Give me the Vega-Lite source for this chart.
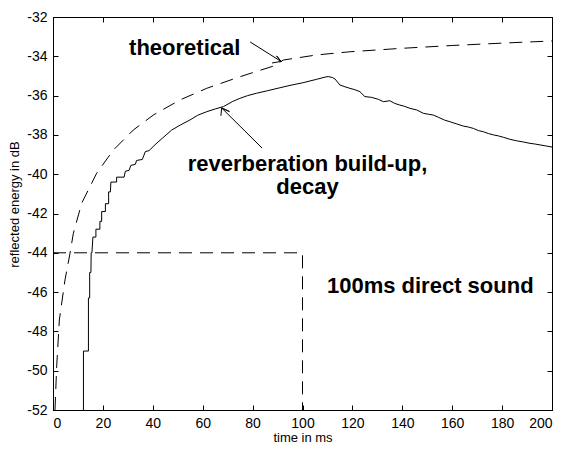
{
  "$schema": "https://vega.github.io/schema/vega-lite/v6.json",
  "width": 499,
  "height": 393,
  "autosize": "none",
  "padding": {"left": 53, "top": 17, "right": 11, "bottom": 39},
  "background": "white",
  "config": {
    "view": {"stroke": "black", "strokeWidth": 1},
    "axis": {
      "grid": false,
      "labelFont": "Liberation Sans",
      "labelFontSize": 14,
      "labelColor": "black",
      "labelOverlap": false,
      "titleFont": "Liberation Sans",
      "titleFontSize": 13,
      "titleFontWeight": "normal",
      "titleColor": "black",
      "domainColor": "black",
      "tickColor": "black",
      "tickSize": -5,
      "labelPadding": 11
    },
    "text": {"font": "Liberation Sans", "fontSize": 22, "fontWeight": "bold", "color": "black"}
  },
  "datasets": {
    "theory": [
      {"t": 0.8, "v": -52.0}, {"t": 1.47, "v": -49.8}, {"t": 2.54, "v": -47.42}, {"t": 4.81, "v": -45.38},
      {"t": 6.81, "v": -44.03}, {"t": 8.15, "v": -43.01}, {"t": 11.49, "v": -41.48}, {"t": 17.5, "v": -39.95},
      {"t": 24.2, "v": -38.77}, {"t": 32.2, "v": -37.75}, {"t": 40.2, "v": -36.99}, {"t": 50.9, "v": -36.22},
      {"t": 61.6, "v": -35.63}, {"t": 74.9, "v": -35.04}, {"t": 88.3, "v": -34.5}, {"t": 92.3, "v": -34.19},
      {"t": 105.7, "v": -33.93}, {"t": 119, "v": -33.77}, {"t": 139, "v": -33.6}, {"t": 160, "v": -33.45},
      {"t": 180, "v": -33.33}, {"t": 200, "v": -33.22}
    ],
    "reverb": [
      {"i": 0, "t": 12.2, "v": -52.0}, {"i": 1, "t": 12.2, "v": -49.0}, {"i": 2, "t": 14.2, "v": -49.0},
      {"i": 3, "t": 14.2, "v": -46.3}, {"i": 4, "t": 14.7, "v": -46.3}, {"i": 5, "t": 14.7, "v": -45.0},
      {"i": 6, "t": 15.2, "v": -45.0}, {"i": 7, "t": 15.3, "v": -44.0}, {"i": 8, "t": 15.6, "v": -44.0},
      {"i": 9, "t": 16.0, "v": -43.2}, {"i": 10, "t": 17.2, "v": -43.2}, {"i": 11, "t": 17.2, "v": -42.8},
      {"i": 12, "t": 18.8, "v": -42.8}, {"i": 13, "t": 18.8, "v": -42.4}, {"i": 14, "t": 19.5, "v": -42.4},
      {"i": 15, "t": 19.5, "v": -41.9}, {"i": 16, "t": 21.0, "v": -41.9}, {"i": 17, "t": 21.0, "v": -41.5},
      {"i": 18, "t": 22.3, "v": -41.5}, {"i": 19, "t": 22.3, "v": -40.9}, {"i": 20, "t": 23.0, "v": -40.9},
      {"i": 21, "t": 23.2, "v": -40.4}, {"i": 22, "t": 25.5, "v": -40.4}, {"i": 23, "t": 25.5, "v": -40.15},
      {"i": 24, "t": 28.5, "v": -40.15}, {"i": 25, "t": 29.0, "v": -39.85}, {"i": 26, "t": 30.5, "v": -39.8},
      {"i": 27, "t": 31.2, "v": -39.55}, {"i": 28, "t": 33.0, "v": -39.5}, {"i": 29, "t": 33.5, "v": -39.3},
      {"i": 30, "t": 35.8, "v": -39.25}, {"i": 31, "t": 37.0, "v": -38.85}, {"i": 32, "t": 38.5, "v": -38.8},
      {"i": 33, "t": 40.9, "v": -38.5}, {"i": 34, "t": 44.0, "v": -38.15}, {"i": 35, "t": 47.6, "v": -37.75},
      {"i": 36, "t": 51.0, "v": -37.5}, {"i": 37, "t": 54.9, "v": -37.24}, {"i": 38, "t": 58.0, "v": -37.0},
      {"i": 39, "t": 61.6, "v": -36.82}, {"i": 40, "t": 65.0, "v": -36.68}, {"i": 41, "t": 68.3, "v": -36.56},
      {"i": 42, "t": 72.0, "v": -36.3}, {"i": 43, "t": 74.9, "v": -36.14}, {"i": 44, "t": 78.0, "v": -36.0},
      {"i": 45, "t": 81.6, "v": -35.88}, {"i": 46, "t": 86.0, "v": -35.75}, {"i": 47, "t": 91.0, "v": -35.6},
      {"i": 48, "t": 95.0, "v": -35.48}, {"i": 49, "t": 100.0, "v": -35.35}, {"i": 50, "t": 105.7, "v": -35.17},
      {"i": 51, "t": 109.0, "v": -35.06}, {"i": 52, "t": 110.3, "v": -35.03}, {"i": 53, "t": 112.0, "v": -35.08},
      {"i": 54, "t": 113.0, "v": -35.15}, {"i": 55, "t": 115.0, "v": -35.46}, {"i": 56, "t": 117.0, "v": -35.55},
      {"i": 57, "t": 119.0, "v": -35.63}, {"i": 58, "t": 121.0, "v": -35.7}, {"i": 59, "t": 123.0, "v": -35.8},
      {"i": 60, "t": 125.0, "v": -36.05}, {"i": 61, "t": 127.7, "v": -36.09}, {"i": 62, "t": 130.4, "v": -36.19},
      {"i": 63, "t": 132.4, "v": -36.31}, {"i": 64, "t": 135.0, "v": -36.26}, {"i": 65, "t": 137.0, "v": -36.4},
      {"i": 66, "t": 139.0, "v": -36.48}, {"i": 67, "t": 141.0, "v": -36.55}, {"i": 68, "t": 143.1, "v": -36.65},
      {"i": 69, "t": 145.8, "v": -36.73}, {"i": 70, "t": 148.4, "v": -36.9}, {"i": 71, "t": 150.5, "v": -36.95},
      {"i": 72, "t": 152.4, "v": -36.99}, {"i": 73, "t": 154.4, "v": -37.1}, {"i": 74, "t": 157.0, "v": -37.25},
      {"i": 75, "t": 159.1, "v": -37.33}, {"i": 76, "t": 162.0, "v": -37.45}, {"i": 77, "t": 164.4, "v": -37.55},
      {"i": 78, "t": 166.5, "v": -37.6}, {"i": 79, "t": 168.5, "v": -37.67}, {"i": 80, "t": 170.5, "v": -37.78},
      {"i": 81, "t": 172.5, "v": -37.84}, {"i": 82, "t": 174.5, "v": -37.93}, {"i": 83, "t": 176.5, "v": -38.0},
      {"i": 84, "t": 178.5, "v": -38.05}, {"i": 85, "t": 180.5, "v": -38.12}, {"i": 86, "t": 183.0, "v": -38.22},
      {"i": 87, "t": 185.8, "v": -38.3}, {"i": 88, "t": 188.5, "v": -38.36}, {"i": 89, "t": 191.2, "v": -38.43},
      {"i": 90, "t": 193.0, "v": -38.46}, {"i": 91, "t": 195.2, "v": -38.51}, {"i": 92, "t": 197.5, "v": -38.56},
      {"i": 93, "t": 200.0, "v": -38.62}
    ],
    "direct": [
      {"i": 0, "t": 0, "v": -44}, {"i": 1, "t": 100, "v": -44}, {"i": 2, "t": 100, "v": -52}
    ],
    "arrows": [
      {"arrow": "a", "i": 0, "t": 87.8, "v": -34.34}, {"arrow": "a", "i": 1, "t": 91.4, "v": -34.26},
      {"arrow": "a", "i": 2, "t": 89.6, "v": -33.98}, {"arrow": "a", "i": 3, "t": 91.4, "v": -34.26},
      {"arrow": "a", "i": 4, "t": 79.0, "v": -33.27},
      {"arrow": "b", "i": 0, "t": 67.3, "v": -37.03}, {"arrow": "b", "i": 1, "t": 67.6, "v": -36.63},
      {"arrow": "b", "i": 2, "t": 70.7, "v": -36.81}, {"arrow": "b", "i": 3, "t": 67.6, "v": -36.63},
      {"arrow": "b", "i": 4, "t": 83.8, "v": -38.67}
    ],
    "leftLabels": [
      {"t": 30.5, "v": -33.93, "label": "theoretical"},
      {"t": 109.8, "v": -46.05, "label": "100ms direct sound"}
    ],
    "centerLabels": [
      {"t": 102, "v": -39.84, "label": "reverberation build-up,"},
      {"t": 102, "v": -41.01, "label": "decay"}
    ]
  },
  "layer": [
    {
      "layer": [
        {
          "data": {"name": "theory"},
          "mark": {"type": "line", "color": "black", "strokeWidth": 1, "strokeDash": [13, 8], "clip": true},
          "encoding": {
            "x": {"field": "t", "type": "quantitative", "scale": {"domain": [0, 200], "nice": false},
                  "axis": {"title": "time in ms", "tickCount": 30, "labelOverlap": false, "labelExpr": "'' + datum.value", "values": [0,20,40,60,80,100,120,140,160,180,200], "titleY": 27, "titleBaseline": "middle"}},
            "y": {"field": "v", "type": "quantitative", "scale": {"domain": [-52, -32], "nice": false, "zero": false},
                  "axis": {"title": "reflected energy in dB", "tickCount": 30, "labelOverlap": false, "labelBound": false, "labelExpr": "'' + datum.value", "values": [-52,-50,-48,-46,-44,-42,-40,-38,-36,-34,-32], "titleX": -39, "titleY": 187, "titleBaseline": "middle"}}
          }
        },
        {
          "data": {"name": "reverb"},
          "mark": {"type": "line", "color": "black", "strokeWidth": 1},
          "encoding": {
            "x": {"field": "t", "type": "quantitative"},
            "y": {"field": "v", "type": "quantitative"},
            "order": {"field": "i", "type": "quantitative"}
          }
        },
        {
          "data": {"name": "direct"},
          "mark": {"type": "line", "color": "black", "strokeWidth": 1, "strokeDash": [13, 8]},
          "encoding": {
            "x": {"field": "t", "type": "quantitative"},
            "y": {"field": "v", "type": "quantitative"},
            "order": {"field": "i", "type": "quantitative"}
          }
        },
        {
          "data": {"name": "arrows"},
          "mark": {"type": "line", "color": "black", "strokeWidth": 1},
          "encoding": {
            "x": {"field": "t", "type": "quantitative"},
            "y": {"field": "v", "type": "quantitative"},
            "detail": {"field": "arrow"},
            "order": {"field": "i", "type": "quantitative"}
          }
        },
        {
          "data": {"name": "leftLabels"},
          "mark": {"type": "text", "align": "left", "baseline": "alphabetic"},
          "encoding": {
            "x": {"field": "t", "type": "quantitative"},
            "y": {"field": "v", "type": "quantitative"},
            "text": {"field": "label"}
          }
        },
        {
          "data": {"name": "centerLabels"},
          "mark": {"type": "text", "align": "center", "baseline": "alphabetic"},
          "encoding": {
            "x": {"field": "t", "type": "quantitative"},
            "y": {"field": "v", "type": "quantitative"},
            "text": {"field": "label"}
          }
        }
      ]
    },
    {
      "data": {"name": "direct"},
      "mark": {"type": "line", "opacity": 0},
      "encoding": {
        "x": {"field": "t", "type": "quantitative", "scale": {"domain": [0, 200], "nice": false},
              "axis": {"orient": "top", "tickCount": 30, "labels": false, "domain": false, "title": null, "values": [0,20,40,60,80,100,120,140,160,180,200]}},
        "y": {"field": "v", "type": "quantitative", "scale": {"domain": [-52, -32], "nice": false, "zero": false},
              "axis": {"orient": "right", "tickCount": 30, "labels": false, "domain": false, "title": null, "values": [-52,-50,-48,-46,-44,-42,-40,-38,-36,-34,-32]}}
      }
    }
  ],
  "resolve": {"axis": {"x": "independent", "y": "independent"}}
}
